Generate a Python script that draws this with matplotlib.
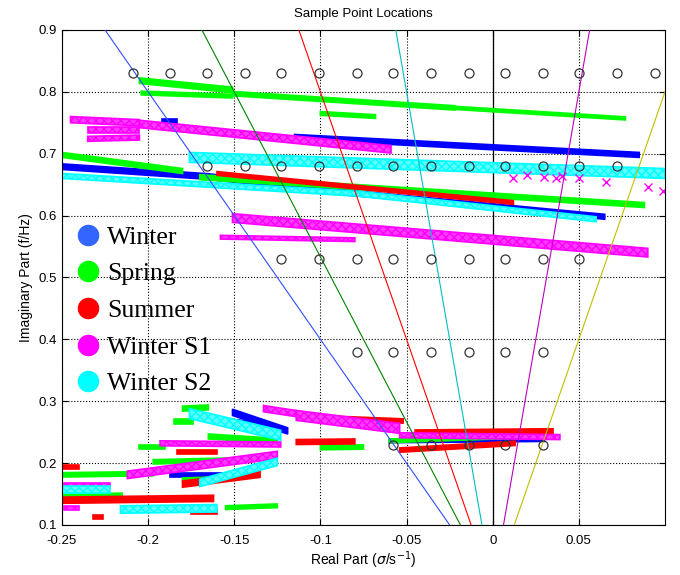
import matplotlib
matplotlib.use("Agg")
import matplotlib.pyplot as plt
from matplotlib.lines import Line2D

# season names and colours
seasons = ["Winter", "Spring", "Summer", "Winter S1", "Winter S2"]
season_colors = ["#0000ff", "#00ff00", "#ff0000", "#ff00ff", "#00ffff"]
legend_colors = ["#3366ff", "#00ff00", "#ff0000", "#ff00ff", "#00ffff"]
# '+' clouds look solid, 'x' clouds look cross-hatched
band_faces = ["#0000ff", "#00ff00", "#ff0000", "#ff3cff", "#5cffff"]
band_hatch = [None, None, None, "xxxx", "xxxx"]

# clouds of pole estimates, read off as bands: (x0, f0, x1, f1, spread)
winter = [
    (-0.192, 0.752, -0.183, 0.752, 0.008),
    (-0.115, 0.727, 0.085, 0.698, 0.008),
    (-0.250, 0.679, -0.165, 0.663, 0.009),
    (-0.165, 0.663, -0.080, 0.636, 0.009),
    (-0.080, 0.636, 0.065, 0.598, 0.008),
    (-0.151, 0.282, -0.119, 0.252, 0.010),
    (-0.148, 0.265, -0.125, 0.255, 0.010),
    (-0.187, 0.181, -0.156, 0.181, 0.007),
    (-0.060, 0.236, 0.030, 0.238, 0.006),
]
spring = [
    (-0.205, 0.818, -0.151, 0.803, 0.009),
    (-0.204, 0.798, -0.151, 0.793, 0.006),
    (-0.151, 0.797, -0.022, 0.774, 0.007),
    (-0.022, 0.774, 0.077, 0.757, 0.005),
    (-0.100, 0.765, -0.068, 0.760, 0.006),
    (-0.250, 0.698, -0.180, 0.672, 0.008),
    (-0.170, 0.662, 0.088, 0.617, 0.008),
    (-0.180, 0.288, -0.165, 0.290, 0.008),
    (-0.185, 0.267, -0.174, 0.267, 0.007),
    (-0.165, 0.243, -0.125, 0.236, 0.008),
    (-0.205, 0.226, -0.190, 0.226, 0.005),
    (-0.197, 0.202, -0.150, 0.205, 0.007),
    (-0.250, 0.181, -0.197, 0.183, 0.007),
    (-0.180, 0.173, -0.155, 0.175, 0.006),
    (-0.250, 0.146, -0.215, 0.148, 0.007),
    (-0.155, 0.128, -0.125, 0.131, 0.006),
    (-0.100, 0.225, -0.075, 0.226, 0.007),
    (-0.060, 0.236, 0.035, 0.245, 0.006),
]
summer = [
    (-0.160, 0.668, 0.012, 0.621, 0.006),
    (-0.107, 0.274, -0.052, 0.268, 0.007),
    (-0.045, 0.250, 0.035, 0.252, 0.007),
    (-0.114, 0.234, -0.080, 0.235, 0.008),
    (-0.054, 0.221, 0.013, 0.232, 0.007),
    (-0.183, 0.218, -0.160, 0.218, 0.006),
    (-0.250, 0.194, -0.240, 0.194, 0.006),
    (-0.180, 0.166, -0.135, 0.182, 0.010),
    (-0.250, 0.140, -0.162, 0.143, 0.010),
    (-0.175, 0.121, -0.160, 0.121, 0.006),
    (-0.232, 0.113, -0.226, 0.113, 0.006),
]
winter_s1 = [
    (-0.245, 0.755, -0.205, 0.750, 0.010),
    (-0.235, 0.738, -0.205, 0.738, 0.010),
    (-0.235, 0.724, -0.205, 0.726, 0.008),
    (-0.205, 0.748, -0.059, 0.707, 0.012),
    (-0.151, 0.596, 0.090, 0.540, 0.014),
    (-0.158, 0.565, -0.080, 0.561, 0.006),
    (-0.030, 0.680, 0.020, 0.672, 0.006),
    (-0.133, 0.288, -0.114, 0.280, 0.010),
    (-0.114, 0.277, -0.054, 0.256, 0.016),
    (-0.054, 0.245, 0.039, 0.242, 0.008),
    (-0.193, 0.232, -0.123, 0.230, 0.008),
    (-0.212, 0.181, -0.125, 0.213, 0.012),
    (-0.249, 0.165, -0.222, 0.165, 0.006),
    (-0.249, 0.128, -0.240, 0.128, 0.006),
]
winter_s2 = [
    (-0.176, 0.694, 0.100, 0.668, 0.016),
    (-0.250, 0.664, -0.077, 0.635, 0.008),
    (-0.077, 0.635, 0.060, 0.594, 0.008),
    (-0.176, 0.280, -0.123, 0.245, 0.016),
    (-0.170, 0.168, -0.125, 0.202, 0.012),
    (-0.250, 0.157, -0.222, 0.157, 0.012),
    (-0.216, 0.125, -0.160, 0.127, 0.012),
]
bands = [winter, spring, summer, winter_s1, winter_s2]

# stray Winter S1 estimates on the right
s1_stray_x = [0.012, 0.020, 0.030, 0.037, 0.040, 0.050, 0.066, 0.090, 0.099]
s1_stray_f = [0.661, 0.666, 0.663, 0.661, 0.664, 0.661, 0.654, 0.646, 0.640]

# sample point grid (rows of constant frequency)
sample_sigma = [-0.209, -0.187, -0.166, -0.144, -0.123, -0.101, -0.079, -0.058,
                -0.036, -0.014, 0.007, 0.029, 0.050, 0.072, 0.094]
sample_rows = [0.83, 0.68, 0.53, 0.38, 0.23]
sample_first = [0, 2, 4, 6, 7]     # index of first sigma used in each row
sample_last = [14, 13, 12, 11, 11]

# constant-ratio lines sigma = -k * f
line_k = [0.25, 0.1875, 0.125, 0.0625, -0.0625, -0.125]
line_colors = [(0.2, 0.3, 1), (0, 0.5, 0), (1, 0, 0), (0, 0.75, 0.75),
               (0.75, 0, 0.75), (0.75, 0.75, 0)]
line_f = [0.1, 0.9]

xticks = [-0.25, -0.2, -0.15, -0.1, -0.05, 0, 0.05]
xtick_labels = ["-0.25", "-0.2", "-0.15", "-0.1", "-0.05", "0", "0.05"]
yticks = [0.1, 0.2, 0.3, 0.4, 0.5, 0.6, 0.7, 0.8, 0.9]

plt.rcParams['font.family'] = ['Liberation Sans', 'DejaVu Sans']
plt.rcParams['hatch.linewidth'] = 1.0

fig = plt.figure(figsize=(6.8, 5.75), dpi=100)
ax = fig.add_axes([0.091, 0.087, 0.887, 0.861])

for segs, col, face, hatch in zip(bands, season_colors, band_faces, band_hatch):
    for x0, f0, x1, f1, s in segs:
        ax.fill([x0, x1, x1, x0], [f0 - s/2, f1 - s/2, f1 + s/2, f0 + s/2],
                facecolor=face, edgecolor=col, hatch=hatch, lw=1.2, zorder=2)

ax.plot(s1_stray_x, s1_stray_f, 'x', color=season_colors[3], ms=6, mew=1, zorder=2)

for k, c in zip(line_k, line_colors):
    ax.plot([-k*f for f in line_f], line_f, color=c, lw=0.8, zorder=3)

ax.axvline(0, color='black', lw=0.9, zorder=1)

for f, i0, i1 in zip(sample_rows, sample_first, sample_last):
    xs = sample_sigma[i0:i1 + 1]
    ax.plot(xs, [f]*len(xs), 'o', mfc='none', mec='#333333', ms=6.5, mew=0.9, zorder=4)

ax.set_xlim(-0.25, 0.1)
ax.set_ylim(0.1, 0.9)
ax.set_xticks(xticks)
ax.set_xticklabels(xtick_labels)
ax.set_yticks(yticks)
ax.grid(True, color='black', ls=':', lw=0.8)
ax.set_axisbelow(True)
ax.tick_params(direction='in', labelsize=9.5, length=4, top=True, right=True)
ax.tick_params(axis='x', pad=7)

ax.set_title("Sample Point Locations", fontsize=9.5, pad=9)
ax.set_xlabel(r"Real Part ($\sigma$/s$^{-1}$)", fontsize=10, labelpad=2)
ax.set_ylabel("Imaginary Part (f/Hz)", fontsize=10)

handles = [Line2D([], [], ls='none', marker='o', ms=14.5, color=c) for c in legend_colors]
ax.legend(handles, seasons, loc='upper left', bbox_to_anchor=(0.0, 0.625),
          frameon=False, prop={'family': 'Liberation Serif', 'size': 18.5},
          labelspacing=0.53, handletextpad=0.15, handlelength=1.2,
          borderaxespad=0.0, borderpad=0.4)

fig.savefig("out.png", dpi=100)
